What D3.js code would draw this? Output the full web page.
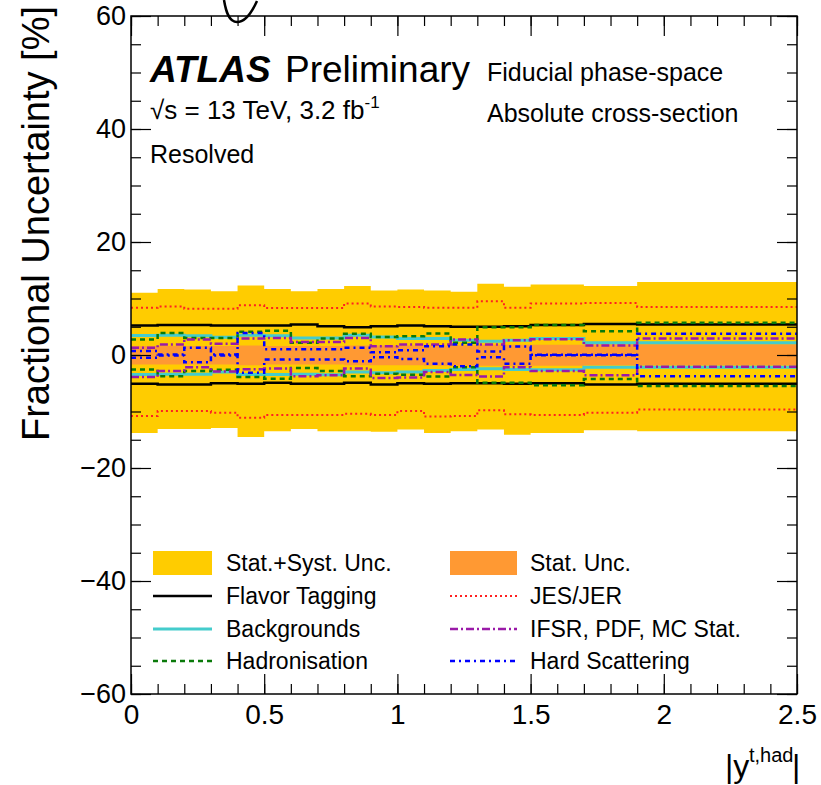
<!DOCTYPE html>
<html>
<head>
<meta charset="utf-8">
<script src="https://cdn.jsdelivr.net/npm/d3@7/dist/d3.min.js"></script>
<style>
body { margin: 0; background: #fff; }
text { font-family: "Liberation Sans", Arial, sans-serif; fill: #000; }
</style>
</head>
<body>
<div id="chart"></div>
<script>
/*
 * Fractional uncertainty breakdown vs |y(t,had)|, resolved, absolute fiducial cross-section
 */

// bin edges of the histogram
var binEdges = [0, 0.1, 0.2, 0.3, 0.4, 0.5, 0.6, 0.7, 0.8, 0.9, 1.0, 1.1, 1.2, 1.3, 1.4, 1.5, 1.7, 1.9, 2.5];

// total (stat+syst) band
var totalUp   = [11.0, 11.7, 11.6, 11.3, 12.3, 11.7, 11.3, 11.7, 12.2, 11.4, 11.6, 11.4, 11.2, 12.6, 12.1, 12.5, 12.2, 12.9];
var totalDown = [-13.8, -13.1, -13.1, -12.9, -14.5, -13.5, -13.1, -13.5, -13.5, -13.6, -13.2, -13.8, -13.5, -13.2, -14.1, -13.8, -13.3, -13.5];

// stat only band
var statUp   = [1.6, 1.6, 1.6, 1.6, 1.7, 1.6, 1.6, 1.6, 1.7, 1.7, 1.7, 1.7, 1.7, 1.8, 1.8, 1.8, 1.9, 1.9];
var statDown = [-1.7, -1.7, -1.7, -1.7, -1.8, -1.7, -1.7, -1.7, -1.8, -1.8, -1.8, -1.9, -1.9, -1.9, -1.9, -1.9, -1.8, -1.8];

// systematic components
var flavorUp   = [5.2, 5.3, 5.3, 5.2, 5.2, 5.2, 5.4, 5.1, 4.9, 5.1, 5.2, 5.1, 5.0, 5.0, 5.1, 5.3, 5.5, 5.4];
var flavorDown = [-5.1, -5.2, -5.2, -5.0, -5.1, -4.9, -5.1, -5.1, -4.9, -5.2, -5.0, -5.1, -5.0, -5.0, -5.1, -5.0, -5.2, -5.1];

var jesUp   = [8.35, 8.6, 8.2, 8.2, 8.8, 8.3, 8.3, 8.3, 9.1, 8.6, 8.5, 8.35, 8.35, 9.5, 8.35, 9.1, 9.2, 8.5];
var jesDown = [-10.8, -9.9, -9.9, -10.2, -11.1, -10.6, -10.6, -10.6, -10.4, -10.6, -9.9, -10.9, -10.8, -9.8, -10.5, -10.6, -10.2, -9.65];

var bkgUp   = [3.45, 3.5, 3.4, 3.15, 3.5, 3.4, 3.0, 3.0, 3.5, 3.2, 2.9, 2.9, 2.6, 2.45, 2.6, 2.9, 2.15, 2.15];
var bkgDown = [-3.45, -3.4, -3.4, -3.0, -3.45, -3.45, -3.4, -3.5, -3.0, -3.15, -3.0, -2.75, -2.55, -2.45, -2.55, -2.6, -2.15, -2.15];

var ifsrUp   = [1.3, 1.85, 2.75, 2.0, 2.9, 3.0, 2.3, 2.3, 3.0, 1.55, 1.85, 1.85, 2.75, 1.85, 2.6, 2.8, 1.7, 2.9];
var ifsrDown = [-3.9, -2.85, -2.15, -2.9, -2.5, -2.4, -3.75, -3.6, -2.4, -4.05, -4.0, -3.0, -3.55, -3.8, -2.15, -2.85, -3.6, -2.1];

var hadUp   = [2.75, 3.9, 3.0, 3.0, 4.1, 4.3, 2.15, 2.9, 3.75, 3.2, 3.3, 3.8, 2.15, 4.9, 4.9, 5.3, 4.2, 5.7];
var hadDown = [-2.55, -3.75, -2.85, -2.6, -3.9, -4.2, -2.3, -2.85, -3.75, -3.3, -3.5, -3.8, -2.15, -4.9, -4.9, -5.35, -4.25, -5.5];

var hardUp   = [0.7, 0.1, 1.3, 0.1, 3.9, 1.0, 1.0, 1.0, 1.3, 0.5, 0.85, 1.55, 1.85, 0.6, 1.5, 0.05, 0.05, 3.75];
var hardDown = [-0.5, -0.1, -1.3, -0.1, -3.15, -0.8, -0.8, -0.8, -1.1, -0.4, -0.7, -1.55, -2.0, -0.4, -1.55, -0.05, -0.05, -3.75];

// axis ticks
var xMajor = [0, 0.5, 1, 1.5, 2, 2.5];
var yMajor = [-60, -40, -20, 0, 20, 40, 60];

var width = 821, height = 785;
var frame = {left: 131, right: 797, top: 16, bottom: 694};

var svg = d3.select("#chart").append("svg")
    .attr("width", width)
    .attr("height", height)
    ;

var x = d3.scaleLinear().domain([0, 2.5]).range([frame.left, frame.right]);
var y = d3.scaleLinear().domain([-60, 60]).range([frame.bottom, frame.top]);

/* bands */
function bandData(up, down) {
    var d = up.map(function(u, i) { return {x: binEdges[i], hi: u, lo: down[i]}; });
    d.push({x: binEdges[binEdges.length - 1], hi: up[up.length - 1], lo: down[down.length - 1]});
    return d;
}
var area = d3.area()
    .curve(d3.curveStepAfter)
    .x(function(d) { return x(d.x); })
    .y0(function(d) { return y(d.lo); })
    .y1(function(d) { return y(d.hi); })
    ;

svg.append("path")
    .attr("d", area(bandData(totalUp, totalDown)))
    .attr("fill", "#ffcc00")
    ;
svg.append("path")
    .attr("d", area(bandData(statUp, statDown)))
    .attr("fill", "#ff9933")
    ;

/* step lines */
function stepPoints(vals) {
    var pts = [];
    vals.forEach(function(v, i) {
        pts.push([binEdges[i], v]);
        pts.push([binEdges[i + 1], v]);
    });
    return pts;
}
var line = d3.line()
    .x(function(d) { return x(d[0]); })
    .y(function(d) { return y(d[1]); })
    ;

var styles = {
    flavor: {color: "#000000", width: 2.5, dash: null},
    jes:    {color: "#ff2020", width: 2,   dash: "2,3"},
    bkg:    {color: "#44cccc", width: 3,   dash: null},
    ifsr:   {color: "#9a1aa8", width: 2.5, dash: "8,3,2,3"},
    had:    {color: "#0a7a0a", width: 2.5, dash: "5,4"},
    hard:   {color: "#0000ff", width: 2.5, dash: "5,4,2,4"}
};

var systs = [
    {key: "flavor", up: flavorUp, down: flavorDown},
    {key: "jes",    up: jesUp,    down: jesDown},
    {key: "bkg",    up: bkgUp,    down: bkgDown},
    {key: "had",    up: hadUp,    down: hadDown},
    {key: "ifsr",   up: ifsrUp,   down: ifsrDown},
    {key: "hard",   up: hardUp,   down: hardDown}
];

systs.forEach(function(s) {
    var st = styles[s.key];
    [s.up, s.down].forEach(function(vals) {
        svg.append("path")
            .attr("d", line(stepPoints(vals)))
            .attr("fill", "none")
            .attr("stroke", st.color)
            .attr("stroke-width", st.width)
            .attr("stroke-dasharray", st.dash)
            ;
    });
});

/* axes: ROOT style, ticks inside on all four sides */
function minorTicks(lo, hi, step) {
    var t = [];
    for (var v = lo; v <= hi + 1e-9; v += step) t.push(+v.toFixed(3));
    return t;
}
var xMinor = minorTicks(0, 2.5, 0.1);
var yMinor = minorTicks(-60, 60, 5);

function drawAxis(axis, tx, ty, fontSize) {
    var g = svg.append("g")
        .attr("transform", "translate(" + tx + "," + ty + ")")
        .call(axis)
        ;
    g.select(".domain").remove();
    g.selectAll("line").attr("stroke", "#000").attr("stroke-width", 1.2);
    if (fontSize) {
        g.selectAll("text")
            .style("font-family", "'Liberation Sans', Arial, sans-serif")
            .style("font-size", fontSize + "px")
            .attr("fill", "#000")
            ;
    } else {
        g.selectAll("text").remove();
    }
    return g;
}

var fmtY = function(d) { return d < 0 ? "\u2212" + Math.abs(d) : "" + d; };

drawAxis(d3.axisBottom(x).tickValues(xMajor).tickSize(-20).tickPadding(10).tickFormat(d3.format("")), 0, frame.bottom, 28);
drawAxis(d3.axisBottom(x).tickValues(xMinor).tickSize(-10).tickFormat(""), 0, frame.bottom, 0);
drawAxis(d3.axisTop(x).tickValues(xMajor).tickSize(-20).tickFormat(""), 0, frame.top, 0);
drawAxis(d3.axisTop(x).tickValues(xMinor).tickSize(-10).tickFormat(""), 0, frame.top, 0);

drawAxis(d3.axisLeft(y).tickValues(yMajor).tickSize(-20).tickPadding(5).tickFormat(fmtY), frame.left, 0, 27);
drawAxis(d3.axisLeft(y).tickValues(yMinor).tickSize(-10).tickFormat(""), frame.left, 0, 0);
drawAxis(d3.axisRight(y).tickValues(yMajor).tickSize(-20).tickFormat(""), frame.right, 0, 0);
drawAxis(d3.axisRight(y).tickValues(yMinor).tickSize(-10).tickFormat(""), frame.right, 0, 0);

svg.append("rect")
    .attr("x", frame.left)
    .attr("y", frame.top)
    .attr("width", frame.right - frame.left)
    .attr("height", frame.bottom - frame.top)
    .attr("fill", "none")
    .attr("stroke", "#000")
    .attr("stroke-width", 1.5)
    ;

/* clipped glyph from the pad above */
svg.append("path")
    .attr("d", "M224,0 C226,12 229,22 237,22 C246,22 252,12 257,1")
    .attr("fill", "none")
    .attr("stroke", "#000")
    .attr("stroke-width", 2.5)
    ;

/* axis titles */
svg.append("text")
    .text("Fractional Uncertainty [%]")
    .attr("transform", "translate(49,6) rotate(-90)")
    .attr("text-anchor", "end")
    .style("font-size", "38px")
    ;

svg.append("text")
    .text("|y")
    .attr("x", 725)
    .attr("y", 777)
    .style("font-size", "32px")
    ;
svg.append("text")
    .text("t,had")
    .attr("x", 749)
    .attr("y", 762)
    .style("font-size", "20px")
    ;
svg.append("text")
    .text("|")
    .attr("x", 792)
    .attr("y", 777)
    .style("font-size", "32px")
    ;

/* labels */
svg.append("text")
    .text("ATLAS")
    .attr("x", 150)
    .attr("y", 82)
    .style("font-size", "37px")
    .style("font-weight", "bold")
    .style("font-style", "italic")
    ;
svg.append("text")
    .text("Preliminary")
    .attr("x", 285)
    .attr("y", 82)
    .style("font-size", "37px")
    ;
var lumi = svg.append("text")
    .attr("x", 150)
    .attr("y", 119)
    .style("font-size", "26px")
    ;
lumi.append("tspan").text("\u221As = 13 TeV, 3.2 fb");
lumi.append("tspan").text("-1").attr("dy", -11).style("font-size", "17px");

svg.append("text")
    .text("Resolved")
    .attr("x", 150)
    .attr("y", 163)
    .style("font-size", "25px")
    ;
svg.append("text")
    .text("Fiducial phase-space")
    .attr("x", 487)
    .attr("y", 81)
    .style("font-size", "25px")
    ;
svg.append("text")
    .text("Absolute cross-section")
    .attr("x", 487)
    .attr("y", 122)
    .style("font-size", "25px")
    ;

/* legend */
var legendRows = [563, 596, 629, 661];
var legendCols = [{x0: 153, x1: 212, tx: 226}, {x0: 450, x1: 517, tx: 530}];
var legendItems = [
    {label: "Stat.+Syst. Unc.",     fill: "#ffcc00"},
    {label: "Stat. Unc.",           fill: "#ff9933"},
    {label: "Flavor Tagging",       key: "flavor"},
    {label: "JES/JER",              key: "jes"},
    {label: "Backgrounds",          key: "bkg"},
    {label: "IFSR, PDF, MC Stat.",  key: "ifsr"},
    {label: "Hadronisation",        key: "had"},
    {label: "Hard Scattering",      key: "hard"}
];

legendItems.forEach(function(item, i) {
    var col = legendCols[i % 2], cy = legendRows[Math.floor(i / 2)];
    if (item.fill) {
        svg.append("rect")
            .attr("x", col.x0)
            .attr("y", cy - 12)
            .attr("width", col.x1 - col.x0)
            .attr("height", 24)
            .attr("fill", item.fill)
            ;
    } else {
        var st = styles[item.key];
        svg.append("line")
            .attr("x1", col.x0)
            .attr("x2", col.x1)
            .attr("y1", cy)
            .attr("y2", cy)
            .attr("stroke", st.color)
            .attr("stroke-width", st.width)
            .attr("stroke-dasharray", st.dash)
            ;
    }
    svg.append("text")
        .text(item.label)
        .attr("x", col.tx)
        .attr("y", cy + 8)
        .style("font-size", "23px")
        ;
});
</script>
</body>
</html>
